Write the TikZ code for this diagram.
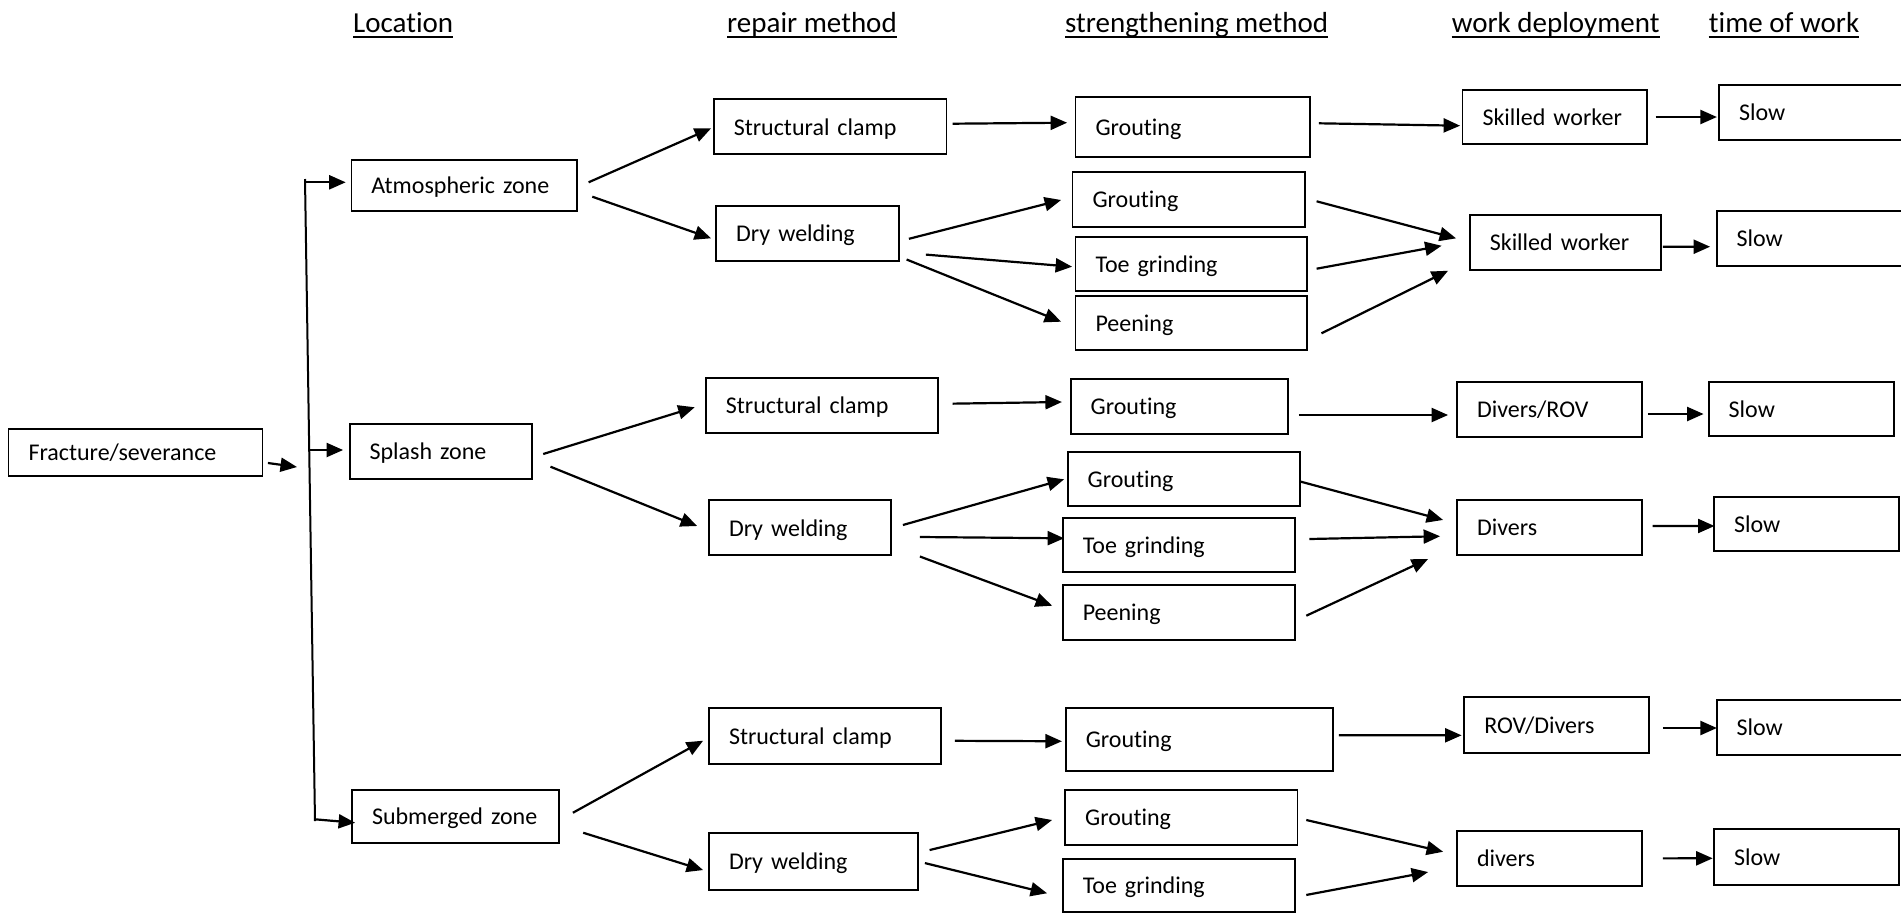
\documentclass[tikz,border=0pt]{standalone}
\usepackage{fontspec}
\setmainfont{Carlito}[Ligatures={NoCommon}]
\usetikzlibrary{arrows.meta}

% box: #1 name, #2 left, #3 top, #4 right, #5 bottom, #6 text
\newcommand{\boxnode}[6]{%
  \pgfmathsetmacro\bw{#4-#2}\pgfmathsetmacro\bh{#5-#3}%
  \pgfmathsetmacro\tw{#4-#2-40}%
  \pgfmathsetmacro\cx{(#2+#4)/2}\pgfmathsetmacro\cy{(#3+#5)/2}%
  \node[box, minimum width=\bw pt, minimum height=\bh pt, text width=\tw pt] (#1) at (\cx,\cy) {#6};}
% arrow from east side of #1 (offset #2,#3) to west side of #4 (offset #5,#6)
\newcommand{\link}[6]{\draw[arr] ([shift={(#2,#3)}]#1.east) -- ([shift={(#5,#6)}]#4.west);}

\begin{document}
\begin{tikzpicture}[x=1pt,y=-1pt,
  box/.style={draw, line width=1.8pt, rectangle, inner xsep=20pt, inner ysep=0pt,
    align=left, font=\fontsize{24}{28}\selectfont, text height=21.5pt, text depth=5pt},
  arr/.style={line width=2.2pt, -{Triangle[length=16.5pt,width=14pt]}},
  trunk/.style={line width=2pt},
  hdr/.style={anchor=base west, inner sep=0pt, font=\fontsize{29}{34}\selectfont},
  uline/.style={line width=2.2pt}]
\useasboundingbox (0,0) rectangle (1901,914);

% column headings
\node[hdr] (hLoc) at (353,32) {Location\ };
\node[hdr] (hRep) at (727,32) {repair method};
\node[hdr] (hStr) at (1065,32) {strengthening method\ };
\node[hdr] (hWrk) at (1451.6,32) {work deployment};
\node[hdr] (hTim) at (1708.7,32) {time of work};
\foreach \h in {hLoc,hRep,hStr,hWrk,hTim}
  \draw[uline] ([yshift=-5pt]\h.base west) -- ([yshift=-5pt]\h.base east);

% damage and location
\boxnode{F}{8.5}{429}{262.4}{476}{Fracture/severance}
\boxnode{AZ}{351.4}{160.3}{576.8}{210.7}{Atmospheric zone}
\boxnode{SZ}{349.6}{424}{532}{479}{Splash zone}
\boxnode{MZ}{352}{790}{558.6}{842.7}{Submerged zone}

% repair methods
\boxnode{SC1}{713.8}{99.3}{946.4}{154.3}{Structural clamp}
\boxnode{DW1}{716.2}{205.7}{898.6}{260.7}{Dry welding}
\boxnode{SC2}{705.9}{378}{937.9}{433.3}{Structural clamp}
\boxnode{DW2}{709}{500.3}{890.7}{555.3}{Dry welding}
\boxnode{SC3}{709}{708.3}{941}{763.7}{Structural clamp}
\boxnode{DW3}{709}{832.7}{918}{890}{Dry welding}

% strengthening methods
\boxnode{G1}{1075.5}{97}{1310.3}{157}{Grouting}
\boxnode{G2}{1072.5}{171.7}{1304.8}{226.7}{Grouting}
\boxnode{TG1}{1075.5}{236.7}{1307.2}{291.3}{Toe grinding}
\boxnode{P1}{1075.5}{295.7}{1307.2}{350.3}{Peening}
\boxnode{G3}{1070.7}{378.7}{1287.8}{433.7}{Grouting}
\boxnode{G4}{1067.7}{451.7}{1300}{506.3}{Grouting}
\boxnode{TG2}{1062.8}{517.7}{1295}{572.3}{Toe grinding}
\boxnode{P2}{1062.8}{584.7}{1295}{639.7}{Peening}
\boxnode{G5}{1065.8}{708.3}{1332.7}{771}{Grouting}
\boxnode{G6}{1065.2}{789.7}{1297.5}{844.7}{Grouting}
\boxnode{TG3}{1062.8}{859.3}{1295}{912}{Toe grinding}

% work deployment
\boxnode{SW1}{1462.5}{89.7}{1646.9}{144.3}{Skilled worker}
\boxnode{SW2}{1469.8}{215}{1660.8}{269.7}{Skilled worker}
\boxnode{DR}{1457}{381.7}{1642}{436.7}{Divers/ROV}
\boxnode{DV}{1457}{500.3}{1642}{555}{Divers}
\boxnode{RD}{1464.3}{697.3}{1649.3}{752.7}{ROV/Divers}
\boxnode{dv}{1457}{830.7}{1642}{886}{divers}

% time of work
\boxnode{S1}{1719}{84.7}{1904}{139.7}{Slow}
\boxnode{S2}{1716.6}{210.7}{1904}{265.7}{Slow}
\boxnode{S3}{1708.7}{381.7}{1893.7}{436.3}{Slow}
\boxnode{S4}{1714}{496.7}{1899}{551.3}{Slow}
\boxnode{S5}{1716.6}{700}{1904}{755}{Slow}
\boxnode{S6}{1714}{829.3}{1899}{884.7}{Slow}

% branching from the damage to the three zones
\coordinate (fend) at (297,467);
\draw[arr] ([shift={(4.6,10.5)}]F.east) -- (fend);
\coordinate (tTop) at (305,179);
\coordinate (tBot) at (315,821);
\draw[trunk] (tTop) -- (tBot);
\coordinate (tA) at (305,182.3);
\coordinate (tS) at (309.3,450);
\coordinate (tM) at (315,819.3);
\draw[arr] (tA) -- ([shift={(-4.8,-3.2)}]AZ.west);
\draw[arr] (tS) -- ([shift={(-5.6,-1.5)}]SZ.west);
\draw[arr] (tM) -- ([shift={(4,6.4)}]MZ.west);

% zone -> repair method
\link{AZ}{10.9}{-3.2}{SC1}{-1.8}{1.5}
\link{AZ}{14.6}{11.2}{DW1}{-4.2}{5.1}
\link{SZ}{10.3}{2.5}{SC2}{-10.3}{1.6}
\link{SZ}{17.6}{15.2}{DW2}{-11}{-1.8}
\link{MZ}{13.4}{-3.6}{SC3}{-5}{4.7}
\link{MZ}{23.7}{16.4}{DW3}{-5}{8.7}

% repair method -> strengthening method
\link{SC1}{5.3}{-3.1}{G1}{-7.5}{-4.3}
\link{DW1}{9.4}{5.6}{G2}{-10.5}{0.8}
\link{DW1}{26.4}{21.4}{TG1}{-2.5}{2.7}
\link{DW1}{7.1}{26.3}{P1}{-13.5}{-1.3}
\link{SC2}{13.8}{-2}{G3}{-7.9}{-4.2}
\link{DW2}{11.3}{-2.8}{G4}{-2.7}{0.3}
\link{DW2}{28.3}{9.2}{TG2}{2.2}{-6.7}
\link{DW2}{28.3}{28.7}{P2}{-9.8}{-6.5}
\link{SC3}{13}{4.8}{G5}{-3}{1.6}
\link{DW3}{10.7}{-11.3}{G6}{-12.2}{2.8}
\link{DW3}{6}{1.7}{TG3}{-14.8}{7.6}

% strengthening method -> work deployment
\link{G1}{7.7}{-3.7}{SW1}{-1.5}{8.7}
\link{G2}{10.9}{2.1}{SW2}{-12.8}{-4}
\link{TG1}{8.5}{4.7}{SW2}{-27.3}{3.4}
\link{P1}{13.4}{10.3}{SW2}{-20.8}{28.4}
\link{G3}{10.2}{8.8}{DR}{-8}{5.8}
\link{G4}{0}{2.7}{DV}{-13}{-7.7}
\link{TG2}{13.5}{-6}{DV}{-16}{8.6}
\link{P2}{10.4}{3.5}{DV}{-28}{31.3}
\link{G5}{5.3}{-4.4}{RD}{-1.8}{10.3}
\link{G6}{7.9}{2.8}{dv}{-13}{-6.6}
\link{TG3}{10.4}{9.3}{dv}{-28}{13.7}

% work deployment -> time of work
\link{SW1}{7.9}{0}{S1}{-1.2}{4.8}
\link{SW2}{1.2}{4.4}{S2}{-5.6}{8.5}
\link{DR}{5}{4.8}{S3}{-4.2}{5}
\link{DV}{9.7}{-1.7}{S4}{1.4}{2}
\link{RD}{12.7}{3}{S5}{1.2}{0.5}
\link{dv}{20}{0}{S6}{-0.4}{1.3}
\end{tikzpicture}
\end{document}
